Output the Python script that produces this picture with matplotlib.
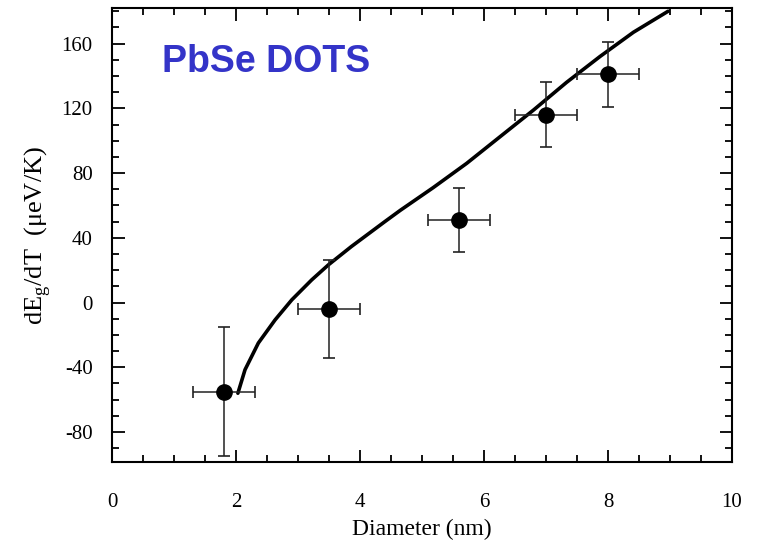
import matplotlib.pyplot as plt
from matplotlib.ticker import MultipleLocator

# measured points (diameter nm, dEg/dT ueV/K)
diam = [1.8, 3.5, 5.6, 7.0, 8.0]
slope = [-55, -4, 51, 116, 141]
diam_err = [0.5, 0.5, 0.5, 0.5, 0.5]
slope_err = [40, 30, 20, 20, 20]

# theory curve
curve_x = [2.03, 2.145, 2.36, 2.63, 2.9, 3.22, 3.49, 3.86, 4.4, 4.65, 5.18, 5.72,
           6.26, 6.8, 7.33, 7.87, 8.41, 8.97]
curve_y = [-56, -41.5, -25, -10.7, 1.7, 14, 23.3, 34.6, 50, 57, 71, 86,
           102.5, 119, 136, 152, 167, 180]

xticks = [0, 2, 4, 6, 8, 10]
yticks = [-80, -40, 0, 40, 80, 120, 160]

plt.rcParams['font.family'] = ['Liberation Serif', 'DejaVu Serif']

fig = plt.figure(figsize=(7.58, 5.47), dpi=100)
ax = fig.add_axes([0.1478, 0.1554, 0.8179, 0.83])

ax.plot(curve_x, curve_y, color='black', lw=2.6, solid_capstyle='round',
        solid_joinstyle='round', zorder=3)
ax.errorbar(diam, slope, xerr=diam_err, yerr=slope_err, fmt='o', color='black',
            ecolor='#222222', elinewidth=1.1, capsize=4, capthick=1.2,
            markersize=11, zorder=4)

ax.set_xlim(0, 10)
ax.set_ylim(-98.5, 182)
ax.set_xticks(xticks)
ax.set_xticklabels([str(v) for v in xticks])
ax.set_yticks(yticks)
ax.set_yticklabels([str(v) for v in yticks])
ax.xaxis.set_minor_locator(MultipleLocator(0.5))
ax.yaxis.set_minor_locator(MultipleLocator(10))

ax.tick_params(which='both', direction='in', top=True, right=True, width=1.3, labelsize=15)
ax.tick_params(which='major', length=9)
ax.tick_params(which='minor', length=5)
ax.tick_params(axis='x', pad=22)
ax.tick_params(axis='y', pad=14)
for s in ax.spines.values():
    s.set_linewidth(1.5)

ax.set_xlabel('Diameter (nm)', fontsize=17, labelpad=5)
ax.set_ylabel(r'dE$_\mathregular{g}$/dT  ($\mathregular{\mu}$eV/K)', fontsize=19, labelpad=6)

ax.text(0.08, 0.882, 'PbSe DOTS', transform=ax.transAxes, fontsize=27,
        fontweight='bold', color='#3434c8', family='Liberation Sans',
        ha='left', va='center')

fig.savefig('out.png', dpi=100)
